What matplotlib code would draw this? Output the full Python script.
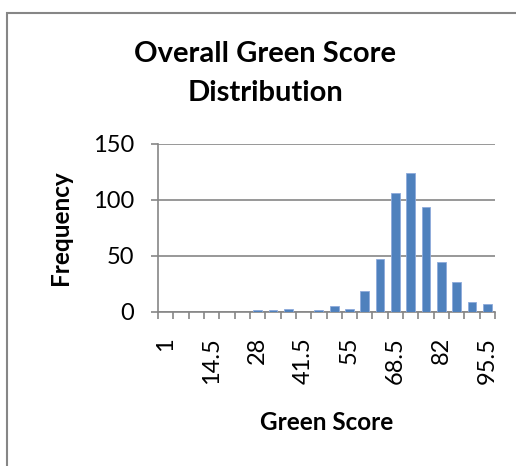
import numpy as np
import matplotlib
matplotlib.use("Agg")
import matplotlib.pyplot as plt
from matplotlib.patches import Rectangle

# histogram bins (lower edge of each class) and counts
bins = [1, 5.5, 10, 14.5, 19, 23.5, 28, 32.5, 37, 41.5, 46, 50.5, 55, 59.5,
        64, 68.5, 73, 77.5, 82, 86.5, 91, 95.5]
counts = [0, 0, 0, 0, 0, 0, 2, 2, 3, 0, 2, 5, 3, 19,
          47, 106, 124, 94, 45, 27, 9, 7]
shown_labels = ["1", "14.5", "28", "41.5", "55", "68.5", "82", "95.5"]

plt.rcParams['font.family'] = ['Lato', 'DejaVu Sans']
W, H = 516, 466
fig = plt.figure(figsize=(W / 100, H / 100), dpi=100)
ax = fig.add_axes([158 / W, 1 - 312 / H, (495 - 158) / W, (312 - 144) / H])

grey = "#868686"
x = np.arange(len(bins))
ax.bar(x, counts, width=0.57, color="#4F81BD", edgecolor="#8EAADB", linewidth=0.6, zorder=3)

ax.set_xlim(-0.5, len(bins) - 0.5)
ax.set_ylim(0, 150)
ax.set_yticks([0, 50, 100, 150])
ax.grid(axis="y", color=grey, linewidth=1.2, zorder=0)
ax.tick_params(axis="y", length=5, width=1.2, color=grey, labelsize=17, pad=12)

ax.set_xticks(x[::3])
ax.set_xticklabels(shown_labels, rotation=90, fontsize=17, va="top")
ax.set_xticks(np.arange(len(bins) + 1) - 0.5, minor=True)
ax.tick_params(axis="x", which="major", length=0, pad=18)
ax.tick_params(axis="x", which="minor", length=5, width=1.2, color=grey)

for s in ["top", "right"]:
    ax.spines[s].set_visible(False)
for s in ["left", "bottom"]:
    ax.spines[s].set_color(grey)
    ax.spines[s].set_linewidth(1.2)

fig.text(265 / W, 1 - 54 / H, "Overall Green Score", ha="center", va="center",
         fontsize=21, fontweight="bold")
fig.text(265 / W, 1 - 93 / H, "Distribution", ha="center", va="center",
         fontsize=21, fontweight="bold")
fig.text(60 / W, 1 - 228 / H, "Frequency", rotation=90, ha="center", va="center",
         fontsize=17.5, fontweight="bold")
fig.text(327 / W, 1 - 423 / H, "Green Score", ha="center", va="center",
         fontsize=17.5, fontweight="bold")

fig.patches.append(Rectangle((7 / W, -0.1), 2, 1 - 13 / H + 0.1, transform=fig.transFigure,
                             fill=False, edgecolor=grey, linewidth=1.5))

fig.savefig("out.png", dpi=100)
